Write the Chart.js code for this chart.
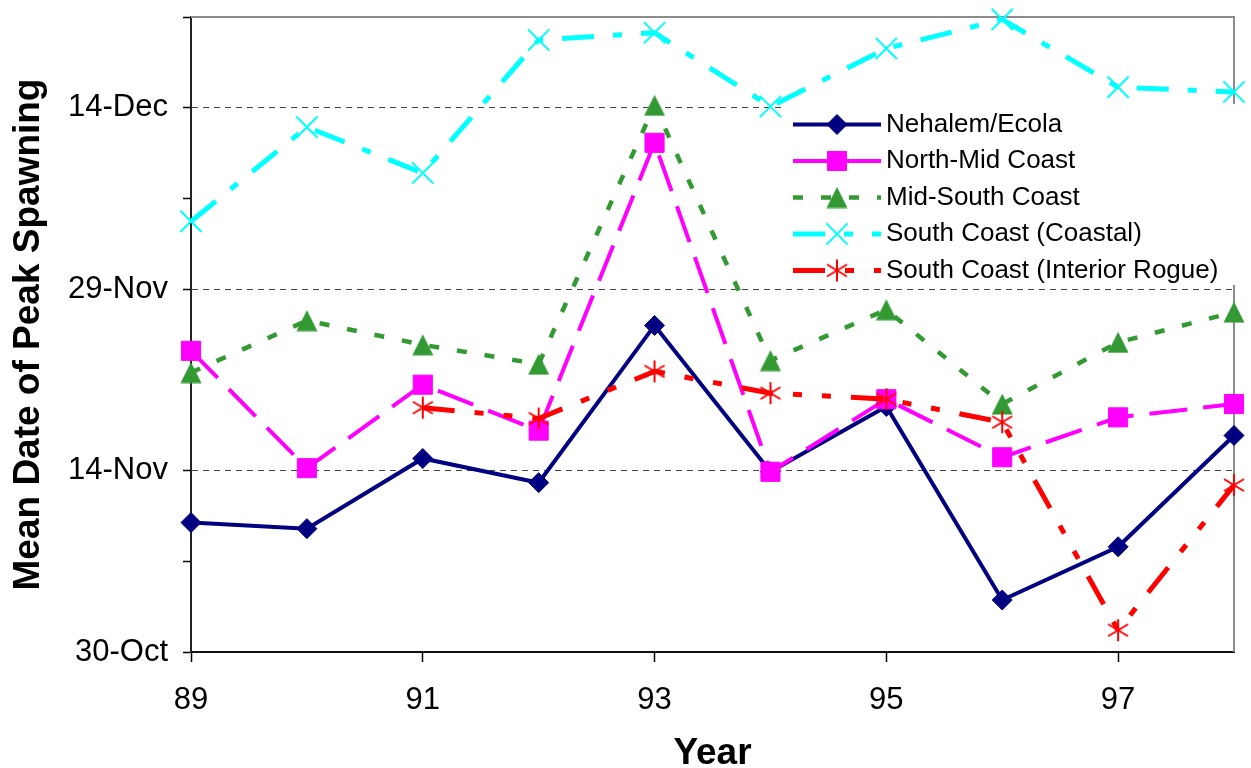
<!DOCTYPE html>
<html>
<head>
<meta charset="utf-8">
<script src="https://cdn.jsdelivr.net/npm/chart.js@4/dist/chart.umd.min.js"></script>
<style>
  html, body { margin: 0; padding: 0; background: #ffffff; }
  canvas { display: block; }
</style>
</head>
<body>
<canvas id="chart" width="1251" height="768"></canvas>
<script>
// Survey years (19xx)
const years = [89, 90, 91, 92, 93, 94, 95, 96, 97, 98];

// Mean date of peak spawning, in days after 30 October
const nehalemEcola       = [10.7, 10.2, 16.0, 14.0, 27.0, 14.9, 20.3, 4.3, 8.7, 17.9];
const northMidCoast      = [24.9, 15.2, 22.1, 18.3, 42.1, 14.9, 20.9, 16.1, 19.4, 20.5];
const midSouthCoast      = [23.1, 27.4, 25.4, 23.8, 45.2, 24.1, 28.3, 20.5, 25.6, 28.1];
const southCoastCoastal  = [35.6, 43.4, 39.6, 50.6, 51.2, 45.1, 49.9, 52.3, 46.7, 46.3];
const southCoastInterior = [null, null, 20.2, 19.3, 23.2, 21.4, 20.9, 19.0, 1.8, 13.8];

const seriesNames = [
  'Nehalem/Ecola',
  'North-Mid Coast',
  'Mid-South Coast',
  'South Coast (Coastal)',
  'South Coast (Interior Rogue)'
];

// Axis labelling
const xTickValues = [89, 91, 93, 95, 97];
const yTickValues = [0, 15, 30, 45];
const yTickLabels = ['30-Oct', '14-Nov', '29-Nov', '14-Dec'];
const yMinorStep = 7.5;
const yMax = 52.5;

const FONT = '"Liberation Sans", Arial, Helvetica, sans-serif';

// Custom marker bitmaps
function makeMarker(w, h, draw) {
  const c = document.createElement('canvas');
  c.width = w; c.height = h;
  draw(c.getContext('2d'));
  return c;
}
const triangleMarker = makeMarker(22, 22, g => {
  g.fillStyle = '#339933';
  g.beginPath();
  g.moveTo(11, 0.5); g.lineTo(21.5, 21.5); g.lineTo(0.5, 21.5);
  g.closePath(); g.fill();
});
const asteriskMarker = makeMarker(24, 24, g => {
  g.strokeStyle = '#FF0000';
  g.lineWidth = 2;
  g.beginPath();
  g.moveTo(12, 1); g.lineTo(12, 23);
  g.moveTo(2, 6); g.lineTo(22, 18);
  g.moveTo(2, 18); g.lineTo(22, 6);
  g.stroke();
});

function toPoints(values) {
  return years.map((yr, i) => ({ x: yr, y: values[i] }));
}

const datasets = [
  {
    label: seriesNames[0], data: toPoints(nehalemEcola),
    borderColor: '#000080', backgroundColor: '#000080', borderWidth: 4, borderDash: [],
    pointStyle: 'rectRot', pointRadius: 10, pointBorderWidth: 1,
    pointBackgroundColor: '#000080', pointBorderColor: '#000080', order: 5
  },
  {
    label: seriesNames[1], data: toPoints(northMidCoast),
    borderColor: '#FF00FF', backgroundColor: '#FF00FF', borderWidth: 4, borderDash: [38, 16],
    pointStyle: 'rect', pointRadius: 13.5, pointBorderWidth: 1,
    pointBackgroundColor: '#FF00FF', pointBorderColor: '#FF00FF', order: 4
  },
  {
    label: seriesNames[2], data: toPoints(midSouthCoast),
    borderColor: '#339933', backgroundColor: '#339933', borderWidth: 4.5, borderDash: [10, 18],
    pointStyle: triangleMarker, pointRadius: 11, pointBorderWidth: 0,
    pointBackgroundColor: '#339933', pointBorderColor: '#339933', order: 3
  },
  {
    label: seriesNames[3], data: toPoints(southCoastCoastal),
    borderColor: '#00FFFF', backgroundColor: '#00FFFF', borderWidth: 5, borderDash: [32, 19, 9, 19],
    pointStyle: 'crossRot', pointRadius: 15, pointBorderWidth: 2,
    pointBackgroundColor: '#00FFFF', pointBorderColor: '#00FFFF', order: 2
  },
  {
    label: seriesNames[4], data: toPoints(southCoastInterior),
    borderColor: '#FF0000', backgroundColor: '#FF0000', borderWidth: 5, borderDash: [32, 20, 9, 20, 9, 20],
    pointStyle: asteriskMarker, pointRadius: 12, pointBorderWidth: 0,
    pointBackgroundColor: '#FF0000', pointBorderColor: '#FF0000', order: 1
  }
];
datasets.forEach(d => { d.tension = 0; d.fill = false; d.clip = false; d.spanGaps = false; });

// Gray frame on the top and right of the plot area
const plotFrame = {
  id: 'plotFrame',
  beforeDatasetsDraw(chart) {
    const { ctx, chartArea: a } = chart;
    ctx.save();
    ctx.strokeStyle = '#8c8c8c';
    ctx.lineWidth = 2;
    ctx.setLineDash([]);
    ctx.beginPath();
    ctx.moveTo(a.left, a.top);
    ctx.lineTo(a.right, a.top);
    ctx.lineTo(a.right, a.bottom);
    ctx.stroke();
    ctx.restore();
  }
};

function drawLegendMarker(ctx, ds, x, y) {
  const st = ds.pointStyle;
  if (typeof st !== 'string') {
    ctx.drawImage(st, x - st.width / 2, y - st.height / 2);
    return;
  }
  const r = ds.pointRadius;
  ctx.save();
  ctx.setLineDash([]);
  ctx.fillStyle = ds.pointBackgroundColor;
  ctx.strokeStyle = ds.pointBorderColor;
  ctx.lineWidth = ds.pointBorderWidth;
  ctx.beginPath();
  if (st === 'rectRot') {
    ctx.moveTo(x, y - r); ctx.lineTo(x + r, y); ctx.lineTo(x, y + r); ctx.lineTo(x - r, y);
    ctx.closePath(); ctx.fill(); ctx.stroke();
  } else if (st === 'rect') {
    const s = r * Math.SQRT1_2;
    ctx.rect(x - s, y - s, 2 * s, 2 * s); ctx.fill(); ctx.stroke();
  } else if (st === 'crossRot') {
    const s = r * Math.SQRT1_2;
    ctx.moveTo(x - s, y - s); ctx.lineTo(x + s, y + s);
    ctx.moveTo(x - s, y + s); ctx.lineTo(x + s, y - s);
    ctx.stroke();
  }
  ctx.restore();
}

// Legend box inside the plot area
const insetLegend = {
  id: 'insetLegend',
  afterDatasetsDraw(chart) {
    const { ctx } = chart;
    const box = { left: 783, top: 104, right: 1235, bottom: 285 };
    const lineStart = 793, lineEnd = 881, markX = 837, textX = 886;
    const firstRow = 124.5, rowStep = 36.5;
    ctx.save();
    ctx.fillStyle = '#ffffff';
    ctx.fillRect(box.left, box.top, box.right - box.left, box.bottom - box.top);
    chart.data.datasets.forEach((ds, i) => {
      const y = firstRow + i * rowStep;
      ctx.save();
      ctx.strokeStyle = ds.borderColor;
      ctx.lineWidth = ds.borderWidth;
      ctx.setLineDash(ds.borderDash);
      ctx.beginPath();
      ctx.moveTo(lineStart, y);
      ctx.lineTo(lineEnd, y);
      ctx.stroke();
      ctx.restore();
      drawLegendMarker(ctx, ds, markX, y);
      ctx.fillStyle = '#000000';
      ctx.font = '26px ' + FONT;
      ctx.textAlign = 'left';
      ctx.textBaseline = 'middle';
      ctx.fillText(ds.label, textX, y);
    });
    ctx.restore();
  }
};

new Chart(document.getElementById('chart'), {
  type: 'line',
  data: { datasets },
  plugins: [plotFrame, insetLegend],
  options: {
    responsive: false,
    animation: false,
    events: [],
    layout: { padding: { left: 0, right: 14, top: 16, bottom: 0 } },
    plugins: {
      legend: { display: false },
      tooltip: { enabled: false },
      title: { display: false }
    },
    scales: {
      x: {
        type: 'linear',
        min: 89,
        max: 98,
        afterBuildTicks: s => { s.ticks = xTickValues.map(v => ({ value: v })); },
        afterFit: s => { s.height = 116; s.paddingLeft = 0; s.paddingRight = 0; },
        ticks: {
          autoSkip: false, maxRotation: 0, minRotation: 0,
          padding: 20, color: '#000000',
          font: { family: FONT, size: 31 },
          callback: v => String(v)
        },
        grid: {
          drawOnChartArea: false, drawTicks: true,
          tickLength: 10, tickColor: '#000000', tickWidth: 1.5
        },
        border: { display: true, color: '#111111', width: 2 },
        title: {
          display: true, text: 'Year', color: '#000000',
          font: { family: FONT, size: 37, weight: 'bold', lineHeight: 1 },
          padding: { top: 0, bottom: -4 }
        }
      },
      y: {
        type: 'linear',
        min: 0,
        max: yMax,
        afterBuildTicks: s => {
          const t = [];
          for (let v = 0; v <= yMax + 1e-9; v += yMinorStep) t.push({ value: v });
          s.ticks = t;
        },
        afterFit: s => { s.width = 191; s.paddingTop = 0; s.paddingBottom = 0; },
        ticks: {
          autoSkip: false, padding: 15, color: '#000000',
          font: { family: FONT, size: 31 },
          callback: v => {
            const i = yTickValues.indexOf(v);
            return i >= 0 ? yTickLabels[i] : '';
          }
        },
        grid: {
          drawOnChartArea: true, drawTicks: true,
          tickLength: 8, tickColor: '#000000', tickWidth: 1.5, tickBorderDash: [],
          lineWidth: 1,
          color: c => (c.tick && c.tick.value > 0 && yTickValues.includes(c.tick.value)) ? '#444444' : 'rgba(0,0,0,0)'
        },
        border: { display: true, color: '#222222', width: 2, dash: [6, 5] },
        title: {
          display: true, text: 'Mean Date of Peak Spawning', color: '#000000',
          font: { family: FONT, size: 37, weight: 'bold', lineHeight: 1 },
          padding: { top: 10, bottom: 0 }
        }
      }
    }
  }
});
</script>
</body>
</html>
